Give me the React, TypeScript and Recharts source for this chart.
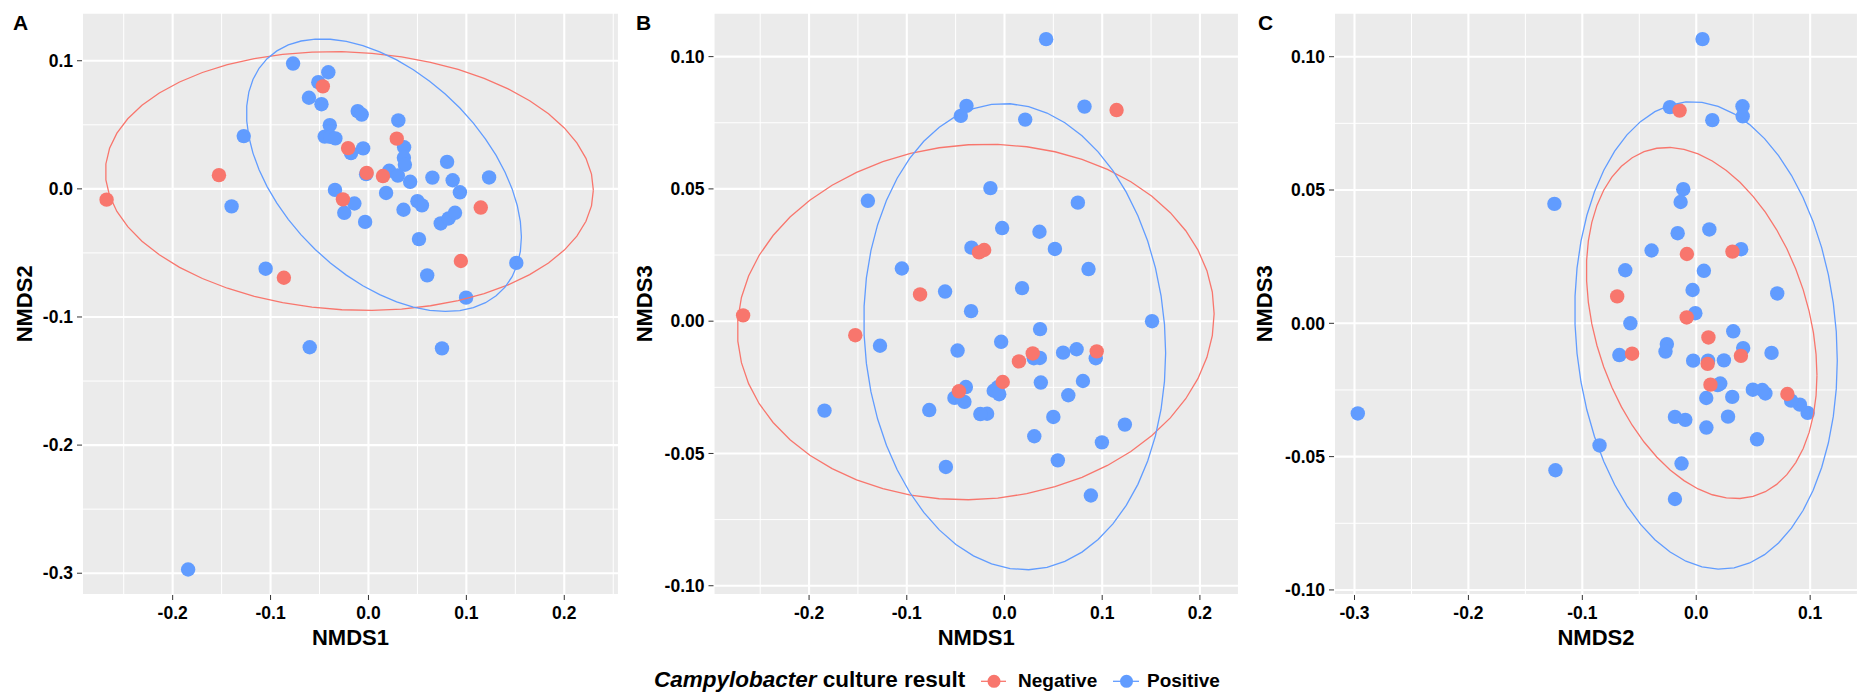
import React from 'react';
import { ScatterChart, Scatter, XAxis, YAxis, CartesianGrid } from 'recharts';

const FONT = '"Liberation Sans", Arial, Helvetica, sans-serif';
const NEG_COLOR = '#F8766D';
const POS_COLOR = '#619CFF';

// NMDS scores of culture-negative samples
const negNMDS1 = [-0.2675, -0.1527, -0.0466, -0.0208, 0.0289, -0.0018, 0.0148, -0.0261, -0.0864, 0.1147, 0.0944];
const negNMDS2 = [-0.0084, 0.0107, 0.08, 0.0318, 0.0392, 0.0125, 0.01, -0.0082, -0.0694, -0.0146, -0.0563];
const negNMDS3 = [0.0022, -0.0053, -0.0265, 0.0269, -0.0122, -0.023, -0.0152, 0.026, 0.0101, 0.0798, -0.0114];

// NMDS scores of culture-positive samples
const posNMDS1 = [
  -0.077, -0.041, -0.0512, -0.0608, -0.048, -0.1274, -0.011, -0.0069, 0.0305, -0.0395,
  -0.0447, -0.0389, -0.0338, -0.0054, -0.0178, 0.0364, 0.0362, 0.0372, 0.0212, 0.03,
  0.0426, 0.0653, 0.0803, 0.086, 0.0934, 0.1232, -0.0342, 0.018, -0.0144, -0.0247,
  -0.0034, 0.0358, 0.05, 0.0546, 0.0738, 0.0819, 0.0884, 0.0516, -0.1398, -0.105,
  0.06, 0.151, 0.0997, -0.06, 0.0751, -0.1842, -0.0024,
];
const posNMDS2 = [
  0.0978, 0.091, 0.0833, 0.0711, 0.0661, 0.0412, 0.0607, 0.058, 0.0534, 0.0497,
  0.0408, 0.0406, 0.0394, 0.0316, 0.0279, 0.0325, 0.0243, 0.0188, 0.0141, 0.0104,
  0.0055, 0.0088, 0.0211, 0.0067, -0.0027, 0.0089, -0.0008, -0.0032, -0.0114, -0.0187,
  -0.0258, -0.0163, -0.0096, -0.0129, -0.027, -0.0231, -0.0187, -0.0392, -0.0137, -0.0623,
  -0.0675, -0.0578, -0.0849, -0.1236, -0.1245, -0.2971, 0.0115,
];
const posNMDS3 = [
  -0.0336, -0.0305, -0.029, 0.0112, -0.0111, -0.0093, -0.0263, -0.025, -0.0435, -0.0249,
  0.0776, 0.0814, 0.0278, -0.0276, -0.035, -0.003, -0.0139, -0.0232, 0.0762, -0.014,
  0.1066, -0.028, -0.0226, 0.0197, -0.014, -0.0391, 0.0038, 0.0125, 0.0503, -0.0351,
  -0.0078, 0.0338, -0.0362, -0.0526, -0.0106, 0.0811, -0.0659, 0.0273, 0.0455, 0.0199,
  -0.0119, 0.0, -0.0458, -0.0551, 0.0448, -0.0338, 0.0352,
];

// Tick positions
const nmds1Ticks = [-0.2, -0.1, 0, 0.1, 0.2];
const nmds2TicksA = [-0.3, -0.2, -0.1, 0, 0.1];
const nmds2TicksC = [-0.3, -0.2, -0.1, 0, 0.1];
const nmds3Ticks = [-0.1, -0.05, 0, 0.05, 0.1];

type Axis = 'n1' | 'n2' | 'n3';
type Sample = { n1: number; n2: number; n3: number };
type Pt = { x: number; y: number };

const negSamples: Sample[] = negNMDS1.map((v, i) => ({ n1: v, n2: negNMDS2[i], n3: negNMDS3[i] }));
const posSamples: Sample[] = posNMDS1.map((v, i) => ({ n1: v, n2: posNMDS2[i], n3: posNMDS3[i] }));

// Robust multivariate t covariance (as in MASS::cov.trob)
function covTrob(pts: Pt[], nu = 5, maxit = 25, tol = 0.01) {
  const n = pts.length;
  const p = 2;
  let lx = pts.reduce((a, q) => a + q.x, 0) / n;
  let ly = pts.reduce((a, q) => a + q.y, 0) / n;
  let w = new Array(n).fill(1);
  let X: number[][] = [];
  for (let iter = 0; iter < maxit; iter++) {
    const w0 = w.slice();
    X = pts.map((q) => [q.x - lx, q.y - ly]);
    const sw = w.reduce((a, b) => a + b, 0);
    let sxx = 0, sxy = 0, syy = 0;
    X.forEach(([a, b], i) => {
      sxx += (w[i] * a * a) / sw;
      sxy += (w[i] * a * b) / sw;
      syy += (w[i] * b * b) / sw;
    });
    const det = sxx * syy - sxy * sxy;
    const ixx = syy / det, iyy = sxx / det, ixy = -sxy / det;
    const Q = X.map(([a, b]) => a * a * ixx + 2 * a * b * ixy + b * b * iyy);
    w = Q.map((q) => (nu + p) / (nu + q));
    const sw2 = w.reduce((a, b) => a + b, 0);
    lx = pts.reduce((a, q, i) => a + w[i] * q.x, 0) / sw2;
    ly = pts.reduce((a, q, i) => a + w[i] * q.y, 0) / sw2;
    if (w.every((wi, i) => Math.abs(wi - w0[i]) < tol)) break;
  }
  let cxx = 0, cxy = 0, cyy = 0;
  X.forEach(([a, b], i) => {
    cxx += (w[i] * a * a) / n;
    cxy += (w[i] * a * b) / n;
    cyy += (w[i] * b * b) / n;
  });
  return { cx: lx, cy: ly, cxx, cxy, cyy };
}

// 95% t-based confidence ellipse of a point cloud
function ellipseOf(pts: Pt[], level = 0.95, segments = 51): Pt[] {
  const { cx, cy, cxx, cxy, cyy } = covTrob(pts);
  const dfd = pts.length - 1;
  const qf = (dfd / 2) * (Math.pow(1 - level, -2 / dfd) - 1);
  const radius = Math.sqrt(2 * qf);
  const r11 = Math.sqrt(cxx);
  const r12 = cxy / r11;
  const r22 = Math.sqrt(Math.max(cyy - r12 * r12, 0));
  const out: Pt[] = [];
  for (let k = 0; k <= segments; k++) {
    const t = (k * 2 * Math.PI) / segments;
    const c = Math.cos(t), s = Math.sin(t);
    out.push({ x: cx + radius * c * r11, y: cy + radius * (c * r12 + s * r22) });
  }
  return out;
}

const CHART_H = 695;
const PLOT_TOP = 12.7;
const X_AXIS_H = 100;
const TICK_FS = 17.5;
const TITLE_FS = 22;

type Panel = {
  tag: string;
  tagX: number;
  left: number;
  width: number;
  yAxisWidth: number;
  xKey: Axis;
  yKey: Axis;
  xTitle: string;
  yTitle: string;
  xDomain: [number, number];
  yDomain: [number, number];
  xTicks: number[];
  yTicks: number[];
  xDigits: number;
  yDigits: number;
  xMinor: number[];
  yMinor: number[];
};

const panels: Panel[] = [
  {
    tag: 'A', tagX: 13, left: 0, width: 620, yAxisWidth: 82,
    xKey: 'n1', yKey: 'n2', xTitle: 'NMDS1', yTitle: 'NMDS2',
    xDomain: [-0.2926, 0.2559], yDomain: [-0.317, 0.1375],
    xTicks: nmds1Ticks, yTicks: nmds2TicksA, xDigits: 1, yDigits: 1,
    xMinor: [-0.25, -0.15, -0.05, 0.05, 0.15, 0.25], yMinor: [0.05, -0.05, -0.15, -0.25],
  },
  {
    tag: 'B', tagX: 16, left: 620, width: 620, yAxisWidth: 93.5,
    xKey: 'n1', yKey: 'n3', xTitle: 'NMDS1', yTitle: 'NMDS3',
    xDomain: [-0.2978, 0.24], yDomain: [-0.1035, 0.1166],
    xTicks: nmds1Ticks, yTicks: nmds3Ticks, xDigits: 1, yDigits: 2,
    xMinor: [-0.25, -0.15, -0.05, 0.05, 0.15], yMinor: [0.075, 0.025, -0.025, -0.075],
  },
  {
    tag: 'C', tagX: 18, left: 1240, width: 619, yAxisWidth: 94,
    xKey: 'n2', yKey: 'n3', xTitle: 'NMDS2', yTitle: 'NMDS3',
    xDomain: [-0.318, 0.142], yDomain: [-0.1019, 0.1165],
    xTicks: nmds2TicksC, yTicks: nmds3Ticks, xDigits: 1, yDigits: 2,
    xMinor: [-0.25, -0.15, -0.05, 0.05], yMinor: [0.075, 0.025, -0.025, -0.075],
  },
];

const MARGIN_RIGHT = 1;

function plotRect(p: Panel) {
  const x = p.yAxisWidth;
  const w = p.width - p.yAxisWidth - MARGIN_RIGHT;
  const y = PLOT_TOP;
  const h = CHART_H - PLOT_TOP - X_AXIS_H;
  return { x, y, w, h };
}

const dot = (color: string) => (props: any) => (
  <circle cx={props.cx} cy={props.cy} r={7.2} fill={color} />
);
const noDot = () => <g />;

function PanelChart({ p }: { p: Panel }) {
  const r = plotRect(p);
  const toPx = (v: number) => r.x + ((v - p.xDomain[0]) / (p.xDomain[1] - p.xDomain[0])) * r.w;
  const toPy = (v: number) => r.y + ((p.yDomain[1] - v) / (p.yDomain[1] - p.yDomain[0])) * r.h;

  const negPts = negSamples.map((s) => ({ x: s[p.xKey], y: s[p.yKey] }));
  const posPts = posSamples.map((s) => ({ x: s[p.xKey], y: s[p.yKey] }));
  const negEll = ellipseOf(negPts);
  const posEll = ellipseOf(posPts);

  const xTick = (props: any) => (
    <text
      x={props.x}
      y={props.y}
      dy={TICK_FS * 0.716}
      textAnchor="middle"
      fill="#000"
      fontSize={TICK_FS}
      fontWeight="bold"
      fontFamily={FONT}
    >
      {Number(props.payload.value).toFixed(p.xDigits)}
    </text>
  );
  const yTick = (props: any) => (
    <text
      x={props.x}
      y={props.y}
      dy={TICK_FS * 0.358}
      textAnchor="end"
      fill="#000"
      fontSize={TICK_FS}
      fontWeight="bold"
      fontFamily={FONT}
    >
      {Number(props.payload.value).toFixed(p.yDigits)}
    </text>
  );

  return (
    <div style={{ position: 'absolute', left: p.left, top: 0, width: p.width, height: CHART_H }}>
      <ScatterChart
        width={p.width}
        height={CHART_H}
        margin={{ top: PLOT_TOP, right: MARGIN_RIGHT, bottom: 0, left: 0 }}
      >
        <CartesianGrid
          fill="#EBEBEB"
          stroke="#FFFFFF"
          strokeWidth={1}
          horizontalPoints={p.yMinor.map(toPy)}
          verticalPoints={p.xMinor.map(toPx)}
        />
        <CartesianGrid fill="none" stroke="#FFFFFF" strokeWidth={2.1} />
        <XAxis
          type="number"
          dataKey="x"
          domain={p.xDomain}
          allowDataOverflow
          ticks={p.xTicks}
          interval={0}
          height={X_AXIS_H}
          axisLine={false}
          tickLine={{ stroke: '#333333', strokeWidth: 1 }}
          tickSize={5}
          tickMargin={6}
          tick={xTick}
        />
        <YAxis
          type="number"
          dataKey="y"
          domain={p.yDomain}
          allowDataOverflow
          ticks={p.yTicks}
          interval={0}
          width={p.yAxisWidth}
          axisLine={false}
          tickLine={{ stroke: '#333333', strokeWidth: 1 }}
          tickSize={5}
          tickMargin={4}
          tick={yTick}
        />
        <Scatter name="Positive" data={posPts} shape={dot(POS_COLOR)} isAnimationActive={false} />
        <Scatter name="Negative" data={negPts} shape={dot(NEG_COLOR)} isAnimationActive={false} />
        <Scatter
          name="Negative ellipse"
          data={negEll}
          shape={noDot}
          line={{ stroke: NEG_COLOR, strokeWidth: 1.3 }}
          lineType="joint"
          legendType="none"
          isAnimationActive={false}
        />
        <Scatter
          name="Positive ellipse"
          data={posEll}
          shape={noDot}
          line={{ stroke: POS_COLOR, strokeWidth: 1.3 }}
          lineType="joint"
          legendType="none"
          isAnimationActive={false}
        />
      </ScatterChart>
    </div>
  );
}

function Labels() {
  return (
    <svg
      width={1859}
      height={695}
      style={{ position: 'absolute', left: 0, top: 0, pointerEvents: 'none' }}
      fontFamily={FONT}
      fontWeight="bold"
    >
      {panels.map((p) => {
        const r = plotRect(p);
        const cx = p.left + r.x + r.w / 2;
        const cy = r.y + r.h / 2;
        return (
          <g key={p.tag}>
            <text x={p.left + p.tagX} y={30} fontSize={21} fill="#000">
              {p.tag}
            </text>
            <text x={cx} y={644.5} fontSize={TITLE_FS} textAnchor="middle" fill="#000">
              {p.xTitle}
            </text>
            <text
              x={p.left + 32}
              y={cy}
              fontSize={TITLE_FS}
              textAnchor="middle"
              fill="#000"
              transform={`rotate(-90 ${p.left + 32} ${cy})`}
            >
              {p.yTitle}
            </text>
          </g>
        );
      })}
      {/* shared legend */}
      <text x={654} y={686.5} fontSize={22.5} fill="#000" style={{ whiteSpace: 'pre' }}>
        <tspan fontStyle="italic">Campylobacter</tspan>
        <tspan> culture result</tspan>
      </text>
      <line x1={981} x2={1006} y1={681.3} y2={681.3} stroke={NEG_COLOR} strokeWidth={1.3} />
      <circle cx={994} cy={681.3} r={6.5} fill={NEG_COLOR} />
      <text x={1018} y={686.5} fontSize={19} fill="#000">Negative</text>
      <line x1={1113} x2={1139} y1={681.3} y2={681.3} stroke={POS_COLOR} strokeWidth={1.3} />
      <circle cx={1126.5} cy={681.3} r={6.5} fill={POS_COLOR} />
      <text x={1147} y={686.5} fontSize={19} fill="#000">Positive</text>
    </svg>
  );
}

export default function App() {
  return (
    <div
      style={{
        position: 'absolute',
        left: 0,
        top: 0,
        width: 1859,
        height: 695,
        background: '#FFFFFF',
        overflow: 'hidden',
      }}
    >
      {panels.map((p) => (
        <PanelChart key={p.tag} p={p} />
      ))}
      <Labels />
    </div>
  );
}
